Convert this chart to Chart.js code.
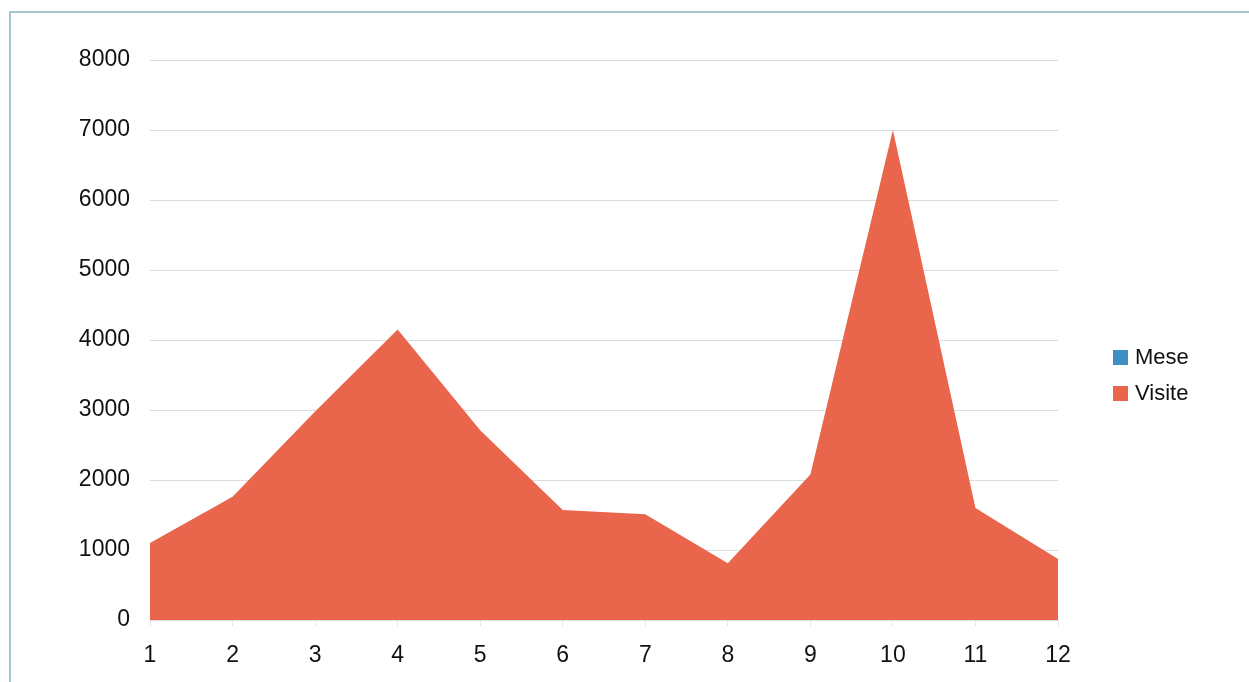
<!DOCTYPE html>
<html lang="it">
<head>
    <meta charset="UTF-8">
    <title>Visite per mese</title>
    <script src="https://cdn.jsdelivr.net/npm/chart.js"></script>
    <style>
        body {
            margin: 0;
            background: #ffffff;
            font-family: 'Liberation Sans', Arial, sans-serif;
        }
        .frame {
            position: absolute;
            left: 9px;
            top: 11px;
            width: 1260px;
            height: 700px;
            border-left: 2px solid #a3c6d0;
            border-top: 2px solid #a3c6d0;
        }
        .chart-box {
            position: absolute;
            left: 0;
            top: 0;
            width: 1249px;
            height: 682px;
        }
        .legend {
            position: absolute;
            left: 1113px;
            top: 339px;
            font-size: 22px;
            color: #111111;
        }
        .legend div {
            display: flex;
            align-items: center;
            height: 36px;
        }
        .legend span.swatch {
            display: inline-block;
            width: 15px;
            height: 15px;
            margin-right: 7px;
        }
    </style>
</head>
<body>
    <div class="frame"></div>
    <div class="chart-box">
        <canvas id="areaChart"></canvas>
    </div>
    <div class="legend" id="legend"></div>

    <script>
        // dati
        const months = ['1', '2', '3', '4', '5', '6', '7', '8', '9', '10', '11', '12'];
        const meseValues = [1, 2, 3, 4, 5, 6, 7, 8, 9, 10, 11, 12];
        const visiteValues = [1100, 1760, 2980, 4150, 2710, 1570, 1510, 810, 2080, 7000, 1600, 870];
        const yTicks = [0, 1000, 2000, 3000, 4000, 5000, 6000, 7000, 8000];

        const seriesNames = ['Mese', 'Visite'];
        const seriesColors = ['#3d8fc4', '#e9654b'];

        const ctx = document.getElementById('areaChart').getContext('2d');
        const areaChart = new Chart(ctx, {
            type: 'line',
            data: {
                labels: months,
                datasets: [{
                    label: seriesNames[0],
                    data: meseValues,
                    backgroundColor: seriesColors[0],
                    borderWidth: 0,
                    pointRadius: 0,
                    fill: 'origin',
                    order: 1
                }, {
                    label: seriesNames[1],
                    data: visiteValues,
                    backgroundColor: seriesColors[1],
                    borderColor: seriesColors[1],
                    borderWidth: 0,
                    pointRadius: 0,
                    tension: 0,
                    fill: 'origin',
                    order: 0
                }]
            },
            options: {
                responsive: true,
                maintainAspectRatio: false,
                animation: false,
                layout: {
                    padding: { top: 60, right: 191, bottom: 0, left: 0 }
                },
                plugins: {
                    legend: { display: false },
                    tooltip: { enabled: false }
                },
                scales: {
                    x: {
                        grid: {
                            drawOnChartArea: false,
                            drawTicks: true,
                            tickLength: 6,
                            color: '#e6e6e6'
                        },
                        border: { display: false },
                        ticks: {
                            color: '#111111',
                            font: { family: "'Liberation Sans', Arial", size: 23 },
                            padding: 16,
                            maxRotation: 0
                        },
                        afterFit: (scale) => { scale.height = 62; }
                    },
                    y: {
                        min: 0,
                        max: 8000,
                        afterBuildTicks: (scale) => {
                            scale.ticks = yTicks.map(v => ({ value: v }));
                        },
                        grid: {
                            color: '#dcdcdc',
                            drawTicks: false
                        },
                        border: { display: false },
                        ticks: {
                            color: '#111111',
                            font: { family: "'Liberation Sans', Arial", size: 23 },
                            padding: 20,
                            callback: (value) => String(value)
                        },
                        afterFit: (scale) => { scale.width = 150; }
                    }
                }
            }
        });

        // legenda a destra
        const legend = document.getElementById('legend');
        seriesNames.forEach((name, i) => {
            const row = document.createElement('div');
            const sw = document.createElement('span');
            sw.className = 'swatch';
            sw.style.background = seriesColors[i];
            row.appendChild(sw);
            row.appendChild(document.createTextNode(name));
            legend.appendChild(row);
        });
    </script>
</body>
</html>
